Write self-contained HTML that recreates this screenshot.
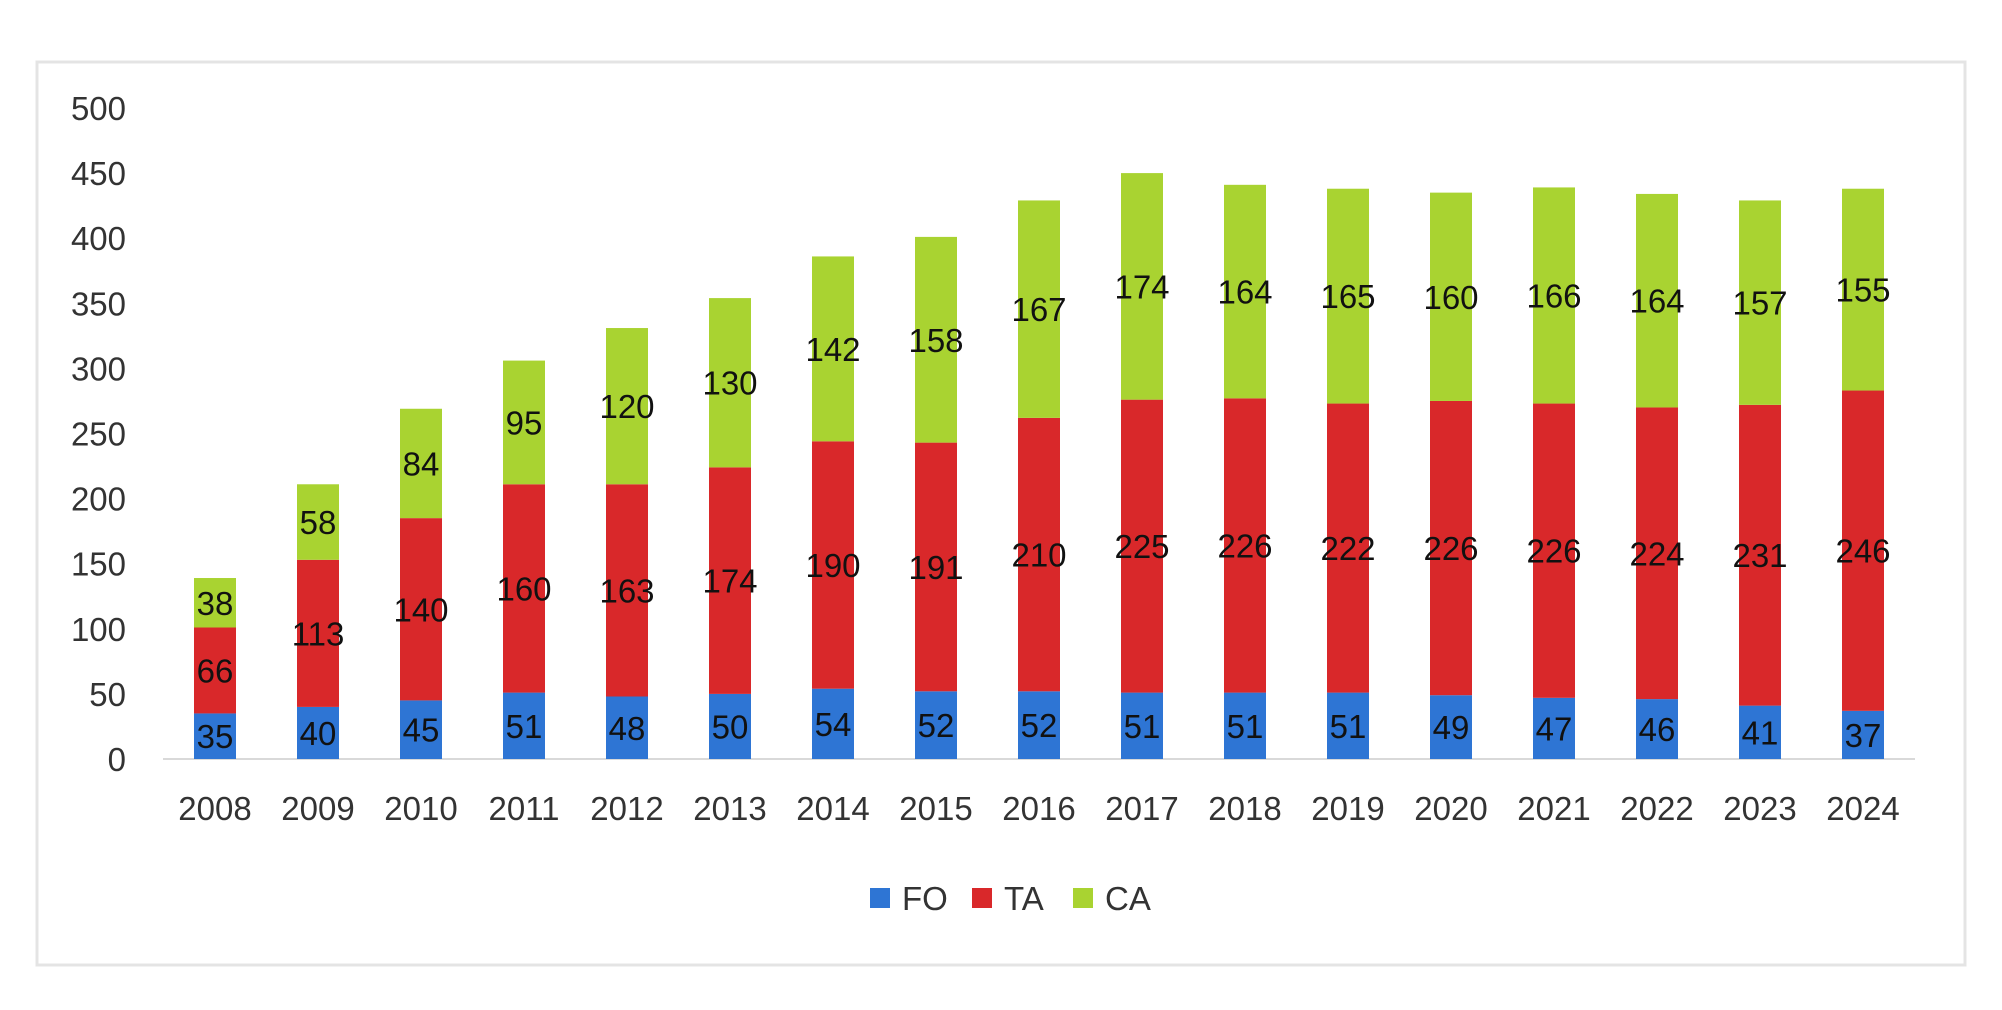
<!DOCTYPE html>
<html><head><meta charset="utf-8"><style>
body{margin:0;background:#fff;}
svg{display:block;font-family:"Liberation Sans",sans-serif;}
</style></head><body>
<svg width="2002" height="1010">
<rect x="37" y="62" width="1928" height="903" fill="#fff" stroke="#e4e4e4" stroke-width="3"/>
<g id="yaxis"></g><g id="bars"></g><g id="xaxis"></g><g id="legend"></g>
</svg>
<script>
const years=["2008","2009","2010","2011","2012","2013","2014","2015","2016","2017","2018","2019","2020","2021","2022","2023","2024"];
const fo=[35,40,45,51,48,50,54,52,52,51,51,51,49,47,46,41,37];
const ta=[66,113,140,160,163,174,190,191,210,225,226,222,226,226,224,231,246];
const ca=[38,58,84,95,120,130,142,158,167,174,164,165,160,166,164,157,155];
const yTicks=[0,50,100,150,200,250,300,350,400,450,500];
const seriesNames=["FO","TA","CA"];
const colors=["#2e75d4","#d9282a","#a9d331"];
const NS="http://www.w3.org/2000/svg";
const y0=759,yTop=108,x0=215,step=103,bw=42;
const yS=v=>y0-(v/500)*(y0-yTop);
const xS=i=>x0+i*step;
function mk(t,a,p,txt){const e=document.createElementNS(NS,t);for(const k in a)e.setAttribute(k,a[k]);if(txt!==undefined)e.textContent=txt;p.appendChild(e);return e;}
const ya=document.getElementById('yaxis');
yTicks.forEach(v=>{const t=mk('text',{x:126,y:yS(v)+12,'text-anchor':'end','font-size':33,fill:'#333'},ya,String(v));

});
const ax=mk('line',{x1:163,x2:1915,y1:y0,y2:y0,stroke:'#d9d9d9','stroke-width':2},ya);


const bars=document.getElementById('bars');
const series=[fo,ta,ca];
years.forEach((yr,i)=>{
 let base=0;
 series.forEach((s,k)=>{
  const v=s[i];
  const r=mk('rect',{x:xS(i)-bw/2,y:yS(base+v),width:bw,height:yS(base)-yS(base+v),fill:colors[k]},bars);
  
  
  const t=mk('text',{x:xS(i),y:(yS(base)+yS(base+v))/2+12,'text-anchor':'middle','font-size':33,fill:'#111'},bars,String(v));
  
  
  base+=v;
 });
 const xl=mk('text',{x:xS(i),y:820,'text-anchor':'middle','font-size':33,fill:'#333'},document.getElementById('xaxis'),yr);
 
 
});
const lg=document.getElementById('legend');
const lx=[870,972,1073];
seriesNames.forEach((n,k)=>{
 const g=mk('g',{},lg);
 
 
 mk('rect',{x:lx[k],y:888,width:20,height:20,fill:colors[k]},g);
 mk('text',{x:lx[k]+32,y:910,'font-size':33,fill:'#333'},g,n);
});
</script>
</body></html>
